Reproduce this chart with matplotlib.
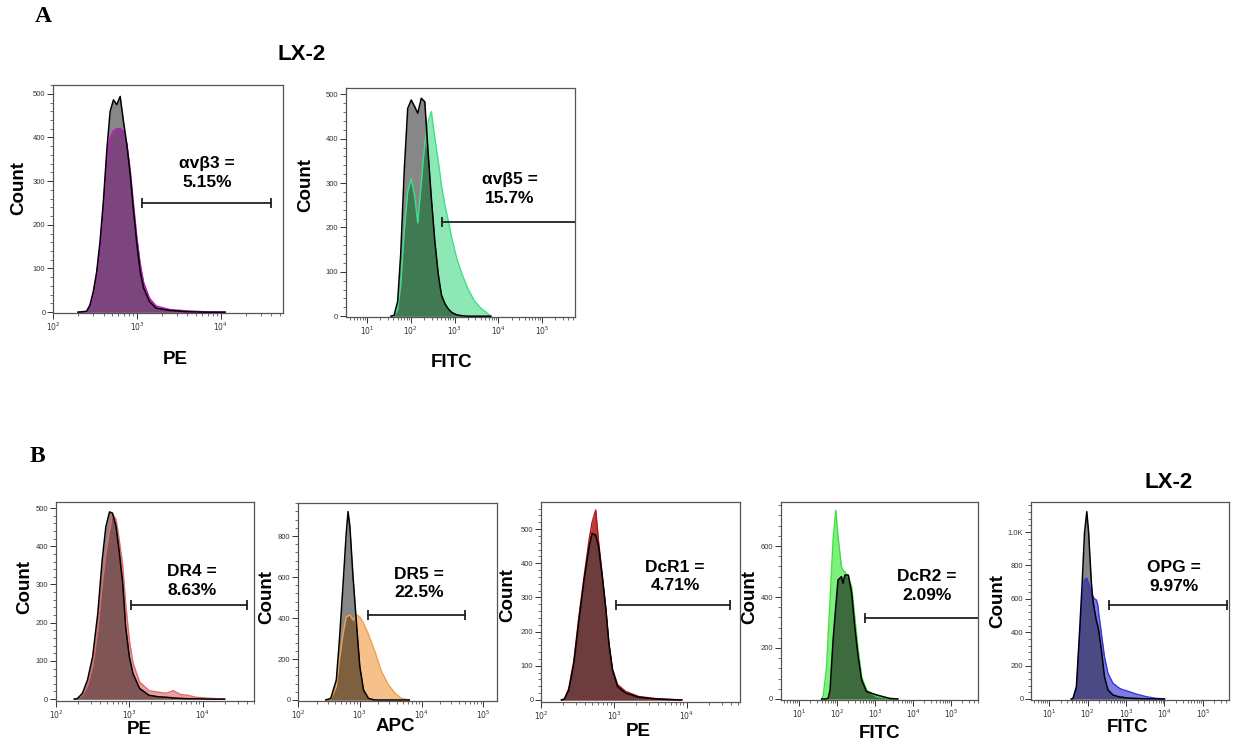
import numpy as np
import matplotlib
matplotlib.use("Agg")
import matplotlib.pyplot as plt
from matplotlib.ticker import FixedLocator, MultipleLocator, LogLocator, NullFormatter

plt.rcParams['font.family'] = ['Liberation Sans', 'DejaVu Sans']

# valeurs : log10(intensité) et nombre d'événements
# A - αvβ3 (PE)
avb3_logx = [2.30, 2.40, 2.44, 2.48, 2.52, 2.56, 2.60, 2.64, 2.68, 2.72, 2.76, 2.80, 2.84,
             2.88, 2.92, 2.96, 3.00, 3.04, 3.08, 3.15, 3.23, 3.39, 3.59, 3.80, 4.05]
avb3_ctrl = [0, 2, 16, 47, 92, 161, 253, 368, 459, 486, 475, 494, 436,
             383, 314, 230, 154, 92, 55, 24, 9, 4, 1, 0, 0]
avb3_stain = [0, 1, 14, 42, 85, 150, 240, 350, 400, 415, 420, 420, 415,
              385, 325, 245, 170, 110, 68, 32, 14, 6, 3, 1, 0]
avb3_gate = [1150, 40000, 250]

# A - αvβ5 (FITC)
avb5_logx = [1.55, 1.62, 1.70, 1.77, 1.85, 1.93, 2.01, 2.09, 2.16, 2.24, 2.32, 2.40, 2.47,
             2.55, 2.63, 2.70, 2.78, 2.86, 2.94, 3.05, 3.17, 3.29, 3.45, 3.60, 3.83]
avb5_ctrl = [0, 2, 33, 140, 326, 468, 487, 472, 457, 491, 483, 363, 266,
             168, 93, 48, 28, 16, 8, 3, 1, 0, 0, 0, 0]
avb5_stain = [0, 1, 15, 70, 190, 280, 310, 270, 210, 300, 390, 440, 461,
              401, 348, 296, 250, 213, 175, 130, 95, 65, 35, 18, 0]
avb5_gate = [510, 1e7, 212]

# B - DR4 (PE)
dr4_logx = [2.25, 2.29, 2.36, 2.43, 2.50, 2.57, 2.63, 2.68, 2.73, 2.77, 2.82, 2.86, 2.91,
            2.95, 3.00, 3.05, 3.14, 3.27, 3.40, 3.50, 3.60, 3.70, 3.80, 3.90, 4.10, 4.30]
dr4_ctrl = [0, 1, 15, 50, 111, 224, 364, 451, 490, 487, 451, 390, 303,
            189, 111, 67, 28, 10, 6, 5, 3, 2, 1, 1, 0, 0]
dr4_stain = [0, 1, 10, 35, 85, 180, 300, 380, 440, 485, 470, 420, 350,
             250, 155, 95, 45, 22, 18, 15, 22, 12, 10, 5, 2, 0]
dr4_gate = [1070, 40000, 246]

# B - DR5 (APC)
dr5_logx = [2.45, 2.53, 2.62, 2.67, 2.73, 2.78, 2.81, 2.84, 2.89, 2.95, 3.00, 3.06, 3.14,
            3.24, 3.35, 3.46, 3.57, 3.67, 3.80]
dr5_ctrl = [0, 8, 98, 293, 569, 813, 919, 845, 602, 358, 163, 49, 8,
            0, 0, 0, 0, 0, 0]
dr5_stain = [0, 5, 65, 195, 325, 406, 410, 415, 390, 415, 405, 375, 320,
             240, 140, 75, 33, 8, 0]
dr5_gate = [1350, 51000, 415]

# B - DcR1 (PE)
dcr1_logx = [2.28, 2.32, 2.38, 2.45, 2.52, 2.59, 2.66, 2.70, 2.75, 2.79, 2.84, 2.89, 2.93,
             2.98, 3.05, 3.16, 3.34, 3.57, 3.75, 3.93]
dcr1_ctrl = [0, 2, 29, 107, 234, 351, 448, 487, 482, 448, 361, 263, 166,
             88, 39, 20, 8, 3, 1, 0]
dcr1_stain = [0, 3, 33, 115, 245, 360, 470, 520, 556, 462, 365, 265, 168,
              90, 45, 25, 10, 4, 2, 0]
dcr1_gate = [1070, 39000, 278]

# B - DcR2 (FITC)
dcr2_logx = [1.60, 1.64, 1.73, 1.77, 1.82, 1.90, 1.97, 2.03, 2.12, 2.16, 2.21, 2.30, 2.39,
             2.47, 2.56, 2.65, 2.78, 3.04, 3.39, 3.60]
dcr2_ctrl = [0, 0, 0, 3, 35, 231, 362, 467, 480, 454, 486, 486, 415,
             284, 166, 75, 29, 16, 2, 0]
dcr2_stain = [0, 13, 127, 250, 388, 624, 741, 637, 519, 505, 499, 480, 440,
              323, 192, 88, 35, 9, 2, 0]
dcr2_gate = [550, 1e7, 318]

# B - OPG (FITC)
opg_logx = [1.58, 1.62, 1.71, 1.79, 1.86, 1.92, 1.98, 2.03, 2.05, 2.10, 2.14, 2.18, 2.23,
            2.27, 2.29, 2.36, 2.44, 2.53, 2.66, 2.83, 2.92, 3.00, 3.26, 3.52, 3.78, 4.00]
opg_ctrl = [0, 2, 74, 393, 693, 992, 1122, 992, 900, 693, 590, 533, 470,
            433, 410, 293, 134, 54, 24, 12, 10, 6, 3, 1, 0, 0]
opg_stain = [0, 2, 54, 333, 593, 713, 723, 690, 673, 640, 613, 600, 593,
             560, 513, 393, 253, 154, 94, 64, 55, 50, 30, 14, 4, 0]
opg_gate = [355, 417000, 563]

GRAY = "#878787"


def tracer_histo(ax, logx, ctrl, stain, gate, label, pct, couleurs, xlim, ylim,
                 xmaj, ymaj, ymin, xlab, ylabels=None, txt_pos=(0.7, 0.6),
                 xlab_pos=(0.5, -0.15), ylab_pos=(-0.16, 0.55)):
    """Superpose l'histogramme contrôle (gris) et l'histogramme marqué"""
    light, dark, line = couleurs
    x = 10 ** np.asarray(logx)
    c = np.asarray(ctrl, float)
    s = np.asarray(stain, float)
    ax.fill_between(x, 0, s, color=light, lw=0, zorder=1)
    ax.fill_between(x, 0, c, color=GRAY, lw=0, zorder=2)
    ax.fill_between(x, 0, np.minimum(c, s), color=dark, lw=0, zorder=3)
    ax.plot(x, s, color=line, lw=1.0, zorder=4)
    ax.plot(x, c, color="black", lw=1.1, zorder=5)

    ax.set_xscale("log")
    ax.set_xlim(*xlim)
    ax.set_ylim(*ylim)

    # barre de la porte
    lo, hi, gy = gate
    ax.plot([lo, hi], [gy, gy], color="#222222", lw=1.3, zorder=6)
    ends = [lo] if hi > xlim[1] else [lo, hi]
    ax.plot(ends, [gy] * len(ends), ls="none", marker="|", ms=7, mew=1.3,
            color="#222222", zorder=6)

    ax.text(txt_pos[0], txt_pos[1], f"{label} =\n{pct}", transform=ax.transAxes,
            ha="center", va="center", fontsize=12.5, fontweight="bold", linespacing=1.3)

    # axes
    ax.xaxis.set_major_locator(FixedLocator(xmaj))
    ax.set_xticklabels([f"$10^{{{int(round(np.log10(v)))}}}$" for v in xmaj])
    ax.xaxis.set_minor_locator(LogLocator(base=10, subs=np.arange(2, 10), numticks=20))
    ax.xaxis.set_minor_formatter(NullFormatter())
    ax.yaxis.set_major_locator(FixedLocator(ymaj))
    if ylabels is not None:
        ax.set_yticklabels(ylabels)
    ax.yaxis.set_minor_locator(MultipleLocator(ymin))
    ax.tick_params(which="major", direction="out", length=4, width=0.7,
                   labelsize=5.5, pad=1.5, colors="#333333")
    ax.tick_params(which="minor", direction="out", length=2, width=0.5, colors="#333333")
    for sp in ax.spines.values():
        sp.set_color("#555555")
        sp.set_linewidth(0.9)

    ax.text(xlab_pos[0], xlab_pos[1], xlab, transform=ax.transAxes, ha="center",
            va="center", fontsize=13.5, fontweight="bold")
    ax.text(ylab_pos[0], ylab_pos[1], "Count", transform=ax.transAxes, ha="center",
            va="center", rotation=90, fontsize=13.5, fontweight="bold")


fig = plt.figure(figsize=(12.33, 7.46), dpi=100)

ax = fig.add_axes([0.043, 0.5804, 0.1865, 0.3056])
tracer_histo(ax, avb3_logx, avb3_ctrl, avb3_stain, avb3_gate, "αvβ3", "5.15%",
             ("#b050b0", "#7d457d", "#c014c0"), (100, 10 ** 4.74), (-2, 520),
             [1e2, 1e3, 1e4], [0, 100, 200, 300, 400, 500], 20, "PE",
             txt_pos=(0.67, 0.614), xlab_pos=(0.53, -0.206), ylab_pos=(-0.148, 0.548))

ax = fig.add_axes([0.2806, 0.575, 0.1857, 0.307])
tracer_histo(ax, avb5_logx, avb5_ctrl, avb5_stain, avb5_gate, "αvβ5", "15.7%",
             ("#8de8b5", "#3f7a52", "#3ee08c"), (10 ** 0.52, 10 ** 5.75), (-2, 514),
             [1e1, 1e2, 1e3, 1e4, 1e5], [0, 100, 200, 300, 400, 500], 20, "FITC",
             txt_pos=(0.716, 0.559), xlab_pos=(0.463, -0.197), ylab_pos=(-0.175, 0.576))

ax = fig.add_axes([0.0454, 0.0603, 0.1606, 0.2668])
tracer_histo(ax, dr4_logx, dr4_ctrl, dr4_stain, dr4_gate, "DR4", "8.63%",
             ("#eaa0a0", "#7f5555", "#e06a6a"), (100, 10 ** 4.70), (-5, 516),
             [1e2, 1e3, 1e4], [0, 100, 200, 300, 400, 500], 20, "PE",
             txt_pos=(0.687, 0.603), xlab_pos=(0.42, -0.141), ylab_pos=(-0.157, 0.573))

ax = fig.add_axes([0.2417, 0.0603, 0.1614, 0.2654])
tracer_histo(ax, dr5_logx, dr5_ctrl, dr5_stain, dr5_gate, "DR5", "22.5%",
             ("#f7c08a", "#7d6040", "#f0a050"), (100, 10 ** 5.22), (-5, 961),
             [1e2, 1e3, 1e4, 1e5], [0, 200, 400, 600, 800], 40, "APC",
             txt_pos=(0.608, 0.593), xlab_pos=(0.49, -0.131), ylab_pos=(-0.156, 0.525))

ax = fig.add_axes([0.4388, 0.059, 0.1614, 0.268])
tracer_histo(ax, dcr1_logx, dcr1_ctrl, dcr1_stain, dcr1_gate, "DcR1", "4.71%",
             ("#b83a3a", "#6d3c3c", "#b01818"), (100, 10 ** 4.73), (-6, 579),
             [1e2, 1e3, 1e4], [0, 100, 200, 300, 400, 500], 20, "PE",
             txt_pos=(0.673, 0.628), xlab_pos=(0.49, -0.15), ylab_pos=(-0.166, 0.535))

ax = fig.add_axes([0.6334, 0.0617, 0.1598, 0.2654])
tracer_histo(ax, dcr2_logx, dcr2_ctrl, dcr2_stain, dcr2_gate, "DcR2", "2.09%",
             ("#7ef07e", "#3d6b3d", "#3fe03f"), (10 ** 0.53, 10 ** 5.71), (-4, 773),
             [1e1, 1e2, 1e3, 1e4, 1e5], [0, 200, 400, 600], 40, "FITC",
             txt_pos=(0.741, 0.576), xlab_pos=(0.50, -0.167), ylab_pos=(-0.157, 0.52))

ax = fig.add_axes([0.8362, 0.0617, 0.1606, 0.2654])
tracer_histo(ax, opg_logx, opg_ctrl, opg_stain, opg_gate, "OPG", "9.97%",
             ("#7d7de0", "#4b4a85", "#3535e0"), (10 ** 0.53, 10 ** 5.68), (-6, 1180),
             [1e1, 1e2, 1e3, 1e4, 1e5], [0, 200, 400, 600, 800, 1000], 40, "FITC",
             ylabels=["0", "200", "400", "600", "800", "1.0K"],
             txt_pos=(0.72, 0.62), xlab_pos=(0.485, -0.141), ylab_pos=(-0.167, 0.50))

# titres et lettres des panneaux
fig.text(302 / 1233, 1 - 55 / 746, "LX-2", ha="center", va="center", fontsize=16, fontweight="bold")
fig.text(1169 / 1233, 1 - 483 / 746, "LX-2", ha="center", va="center", fontsize=16, fontweight="bold")
fig.text(43 / 1233, 1 - 17 / 746, "A", ha="center", va="center", fontsize=17,
         fontweight="bold", family="Liberation Serif")
fig.text(37 / 1233, 1 - 457 / 746, "B", ha="center", va="center", fontsize=17,
         fontweight="bold", family="Liberation Serif")

fig.savefig("out.png", dpi=100)
